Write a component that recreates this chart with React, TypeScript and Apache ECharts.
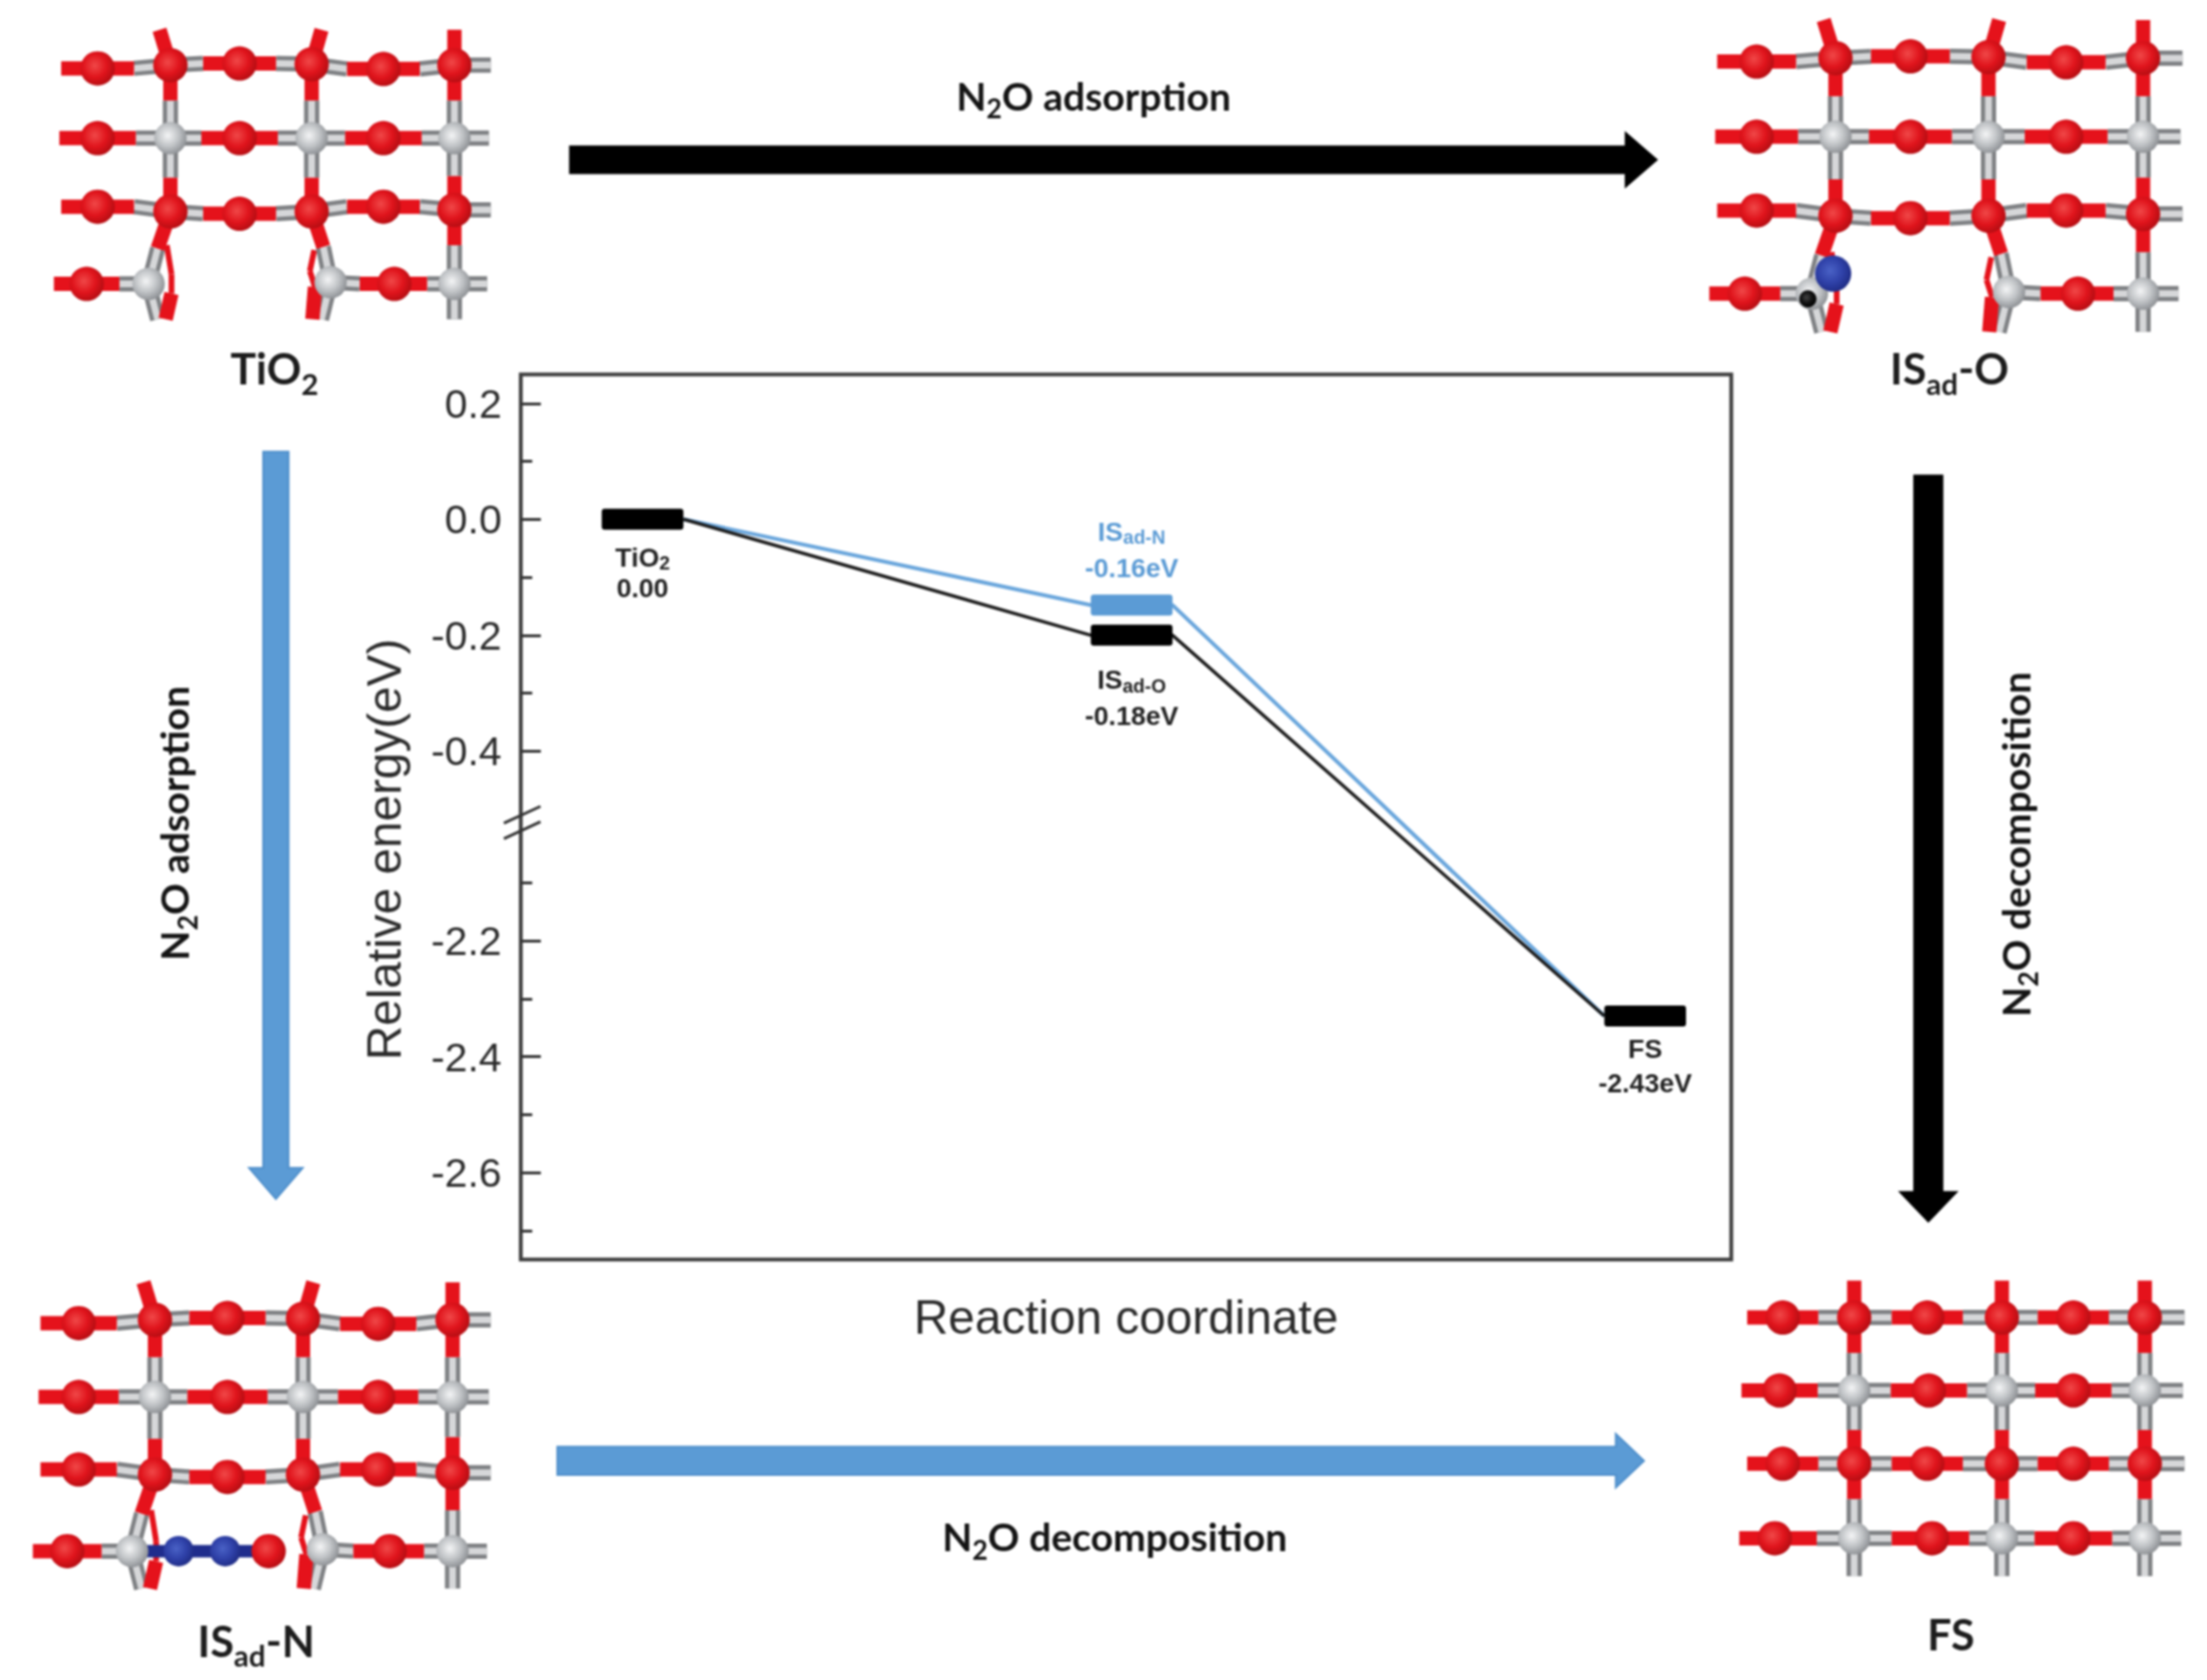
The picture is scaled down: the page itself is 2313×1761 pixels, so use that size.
import React, { useEffect, useRef } from "react";
import * as echarts from "echarts";

// ---- chart data ----
const stepPositions = [1, 2, 3.05];
const pathOLevels = [0, -0.2, -2.33];
const pathNLevels = [0, -0.148, -2.33];
const levelSpan = 0.167;
const majorTickValues = [0.2, 0, -0.2, -0.4, -2.2, -2.4, -2.6];
const minorTickValues = [0.1, -0.1, -0.3, -2.1, -2.3, -2.5, -2.7];
const pathOLabels = [
  ["{a|TiO}{b|2}", "0.00"],
  ["{a|IS}{b|ad-O}", "-0.18eV"],
  ["{a|FS}", "-2.43eV"],
];
const pathNLabels = ["{a|IS}{b|ad-N}", "-0.16eV"];

const W = 2313;
const H = 1761;
const K = W / 1568; // layout below is noted in 1568-wide units
const BLUE = "#5b9bd5";

type El = Record<string, any>;

const radial = (a: string, b: string, c: string) =>
  new echarts.graphic.RadialGradient(0.42, 0.42, 0.62, [
    { offset: 0, color: a },
    { offset: 0.55, color: b },
    { offset: 1, color: c },
  ]);

type Bond = [number, number, number, number, string];
type Atom = [number, number, string];

function hRow(os: number[][], cs: number[][], end: number, h: number): Bond[] {
  const out: Bond[] = [];
  os.forEach((o, i) => {
    out.push([o[0] - h, o[1], o[0] + h, o[1], "r"]);
    out.push([o[0] + h, o[1], cs[i][0], cs[i][1], "g"]);
    if (i < os.length - 1) out.push([cs[i][0], cs[i][1], os[i + 1][0] - h, os[i + 1][1], "g"]);
    else out.push([cs[i][0], cs[i][1], end, cs[i][1], "g"]);
  });
  return out;
}

const rumpledBonds: Bond[] = [
  ...hRow([[265, 220], [655, 205], [1050, 222]], [[465, 210], [853, 207], [1245, 210]], 1345, 100),
  ...hRow([[265, 437], [655, 437], [1050, 437]], [[465, 437], [853, 437], [1245, 437]], 1340, 105),
  ...hRow([[265, 650], [655, 672], [1050, 650]], [[465, 665], [853, 665], [1245, 660]], 1345, 100),
  [145, 890, 325, 890, "r"], [325, 890, 405, 890, "g"],
  [905, 885, 985, 890, "g"], [985, 890, 1170, 890, "r"], [1170, 890, 1245, 890, "g"], [1245, 890, 1335, 890, "g"],
  [435, 100, 465, 210, "r"], [465, 210, 465, 320, "r"], [465, 320, 465, 437, "g"], [465, 437, 465, 560, "g"],
  [465, 560, 465, 665, "r"], [465, 665, 430, 780, "r"], [430, 780, 405, 890, "g"], [405, 890, 430, 1000, "g"],
  [455, 770, 468, 860, "q"], [468, 860, 468, 920, "q"], [468, 920, 452, 1000, "r"],
  [880, 100, 853, 207, "r"], [853, 207, 853, 320, "r"], [853, 320, 853, 437, "g"], [853, 437, 853, 560, "g"],
  [853, 560, 853, 665, "r"], [853, 665, 885, 775, "r"], [885, 775, 905, 885, "g"], [905, 885, 880, 1000, "g"],
  [860, 785, 848, 850, "q"], [848, 850, 862, 900, "q"], [862, 900, 855, 1000, "r"],
  [1245, 100, 1245, 210, "r"], [1245, 210, 1245, 320, "r"], [1245, 320, 1245, 437, "g"], [1245, 437, 1245, 555, "g"],
  [1245, 555, 1245, 660, "r"], [1245, 660, 1245, 770, "r"], [1245, 770, 1245, 890, "g"], [1245, 890, 1245, 1000, "g"],
];
const rumpledAtoms: Atom[] = [
  [265, 220, "O"], [655, 205, "O"], [1050, 222, "O"], [465, 210, "O"], [853, 207, "O"], [1245, 210, "O"],
  [265, 437, "O"], [655, 437, "O"], [1050, 437, "O"], [465, 437, "T"], [853, 437, "T"], [1245, 437, "T"],
  [265, 650, "O"], [655, 672, "O"], [1050, 650, "O"], [465, 665, "O"], [853, 665, "O"], [1245, 660, "O"],
  [235, 890, "O"], [1080, 890, "O"], [405, 890, "T"], [905, 885, "T"], [1245, 890, "T"],
];

const flatCols = [430, 895, 1345];
const flatBonds: Bond[] = [
  ...hRow([[205, 185], [660, 185], [1120, 185]], flatCols.map((c) => [c, 185]), 1470, 112),
  ...hRow([[195, 412], [665, 412], [1120, 412]], flatCols.map((c) => [c, 412]), 1465, 120),
  ...hRow([[205, 640], [660, 640], [1120, 640]], flatCols.map((c) => [c, 640]), 1470, 112),
  ...hRow([[190, 872], [670, 872], [1120, 872]], flatCols.map((c) => [c, 872]), 1460, 122),
  ...flatCols.flatMap((c): Bond[] => [
    [c, 70, c, 185, "r"], [c, 185, c, 295, "r"], [c, 295, c, 412, "g"], [c, 412, c, 535, "g"],
    [c, 535, c, 640, "r"], [c, 640, c, 750, "r"], [c, 750, c, 872, "g"], [c, 872, c, 990, "g"],
  ]),
];
const flatAtoms: Atom[] = [
  [205, 185, "O"], [660, 185, "O"], [1120, 185, "O"], [430, 185, "O"], [895, 185, "O"], [1345, 185, "O"],
  [195, 412, "O"], [665, 412, "O"], [1120, 412, "O"], [430, 412, "T"], [895, 412, "T"], [1345, 412, "T"],
  [205, 640, "O"], [660, 640, "O"], [1120, 640, "O"], [430, 640, "O"], [895, 640, "O"], [1345, 640, "O"],
  [180, 872, "O"], [675, 872, "O"], [1120, 872, "O"], [430, 872, "T"], [895, 872, "T"], [1345, 872, "T"],
];

function lattice(
  bonds: Bond[],
  atoms: Atom[],
  u0: number, u1: number, v0: number, v1: number,
  x0: number, x1: number, y0: number, y1: number,
  nitrogenR = 16,
): El[] {
  const X = (u: number) => (x0 + ((u - u0) / (u1 - u0)) * (x1 - x0)) * K;
  const Y = (v: number) => (y0 + ((v - v0) / (v1 - v0)) * (y1 - y0)) * K;
  const out: El[] = [];
  const seg = (b: Bond, stroke: string, lineWidth: number) => ({
    type: "line", silent: true,
    shape: { x1: X(b[0]), y1: Y(b[1]), x2: X(b[2]), y2: Y(b[3]) },
    style: { stroke, lineWidth, lineCap: "butt" },
  });
  bonds.filter((b) => b[4] === "q").forEach((b) => out.push(seg(b, "#e5121b", 6)));
  bonds.filter((b) => b[4] === "g").forEach((b) => {
    out.push(seg(b, "#7f8184", 16));
    out.push(seg(b, "#d6d7d9", 7));
  });
  bonds.filter((b) => b[4] === "n").forEach((b) => out.push(seg(b, "#1f2c8c", 13)));
  bonds.filter((b) => b[4] === "r").forEach((b) => out.push(seg(b, "#e5121b", 15)));
  atoms.forEach((a) => {
    const fill =
      a[2] === "O" ? radial("#f04848", "#e0141c", "#b20d12")
      : a[2] === "T" ? radial("#f4f5f6", "#bfc2c5", "#8b8e92")
      : a[2] === "N" ? radial("#4a62c6", "#2f41a8", "#1e2b83")
      : radial("#444", "#111", "#000");
    const r = a[2] === "O" ? 18 : a[2] === "T" ? 17 : a[2] === "N" ? nitrogenR : 9;
    out.push({
      type: "circle", silent: true,
      shape: { cx: X(a[0]), cy: Y(a[1]), r },
      style: { fill },
    });
  });
  return out;
}

function arrowH(x1: number, x2: number, base: number, yc: number, half: number, head: number, fill: string, stroke?: string): El {
  return {
    type: "polygon", silent: true,
    shape: {
      points: [
        [x1, yc - half], [base, yc - half], [base, yc - head], [x2, yc], [base, yc + head], [base, yc + half], [x1, yc + half],
      ].map((p) => [p[0] * K, p[1] * K]),
    },
    style: { fill, stroke: stroke || fill, lineWidth: 2 },
  };
}
function arrowV(xc: number, y1: number, y2: number, base: number, half: number, head: number, fill: string, stroke?: string): El {
  return {
    type: "polygon", silent: true,
    shape: {
      points: [
        [xc - half, y1], [xc - half, base], [xc - head, base], [xc, y2], [xc + head, base], [xc + half, base], [xc + half, y1],
      ].map((p) => [p[0] * K, p[1] * K]),
    },
    style: { fill, stroke: stroke || fill, lineWidth: 2 },
  };
}

const capRich = (size: number, sub: number, lh: number, weight: any = 700, color = "#141414") => ({
  m: { fontFamily: "Lato", fontWeight: weight, fontSize: size, lineHeight: lh, fill: color, verticalAlign: "middle" },
  s: { fontFamily: "Lato", fontWeight: weight, fontSize: sub, lineHeight: lh, fill: color, verticalAlign: "bottom" },
});

function caption(text: string, x: number, y: number, rotated = false): El {
  return {
    type: "text", silent: true,
    x: x * K, y: y * K, rotation: rotated ? Math.PI / 2 : 0,
    style: { text, rich: capRich(41, 28, 54), align: "center", verticalAlign: "middle" },
  };
}
function stateLabel(text: string, x: number, y: number): El {
  return {
    type: "text", silent: true,
    x: x * K, y: y * K,
    style: { text, rich: capRich(45, 31, 62, 700, "#1d1d1d"), align: "center", verticalAlign: "middle" },
  };
}

const graphicElements: El[] = [
  ...lattice(rumpledBonds, rumpledAtoms, 140, 1350, 95, 1005, 37, 350, 20, 228),
  ...lattice(
    rumpledBonds,
    [...rumpledAtoms, [395, 905, "D"], [459, 832, "N"]],
    140, 1350, 95, 1005, 1213, 1552, 13, 237, 19,
  ),
  ...lattice(
    [...rumpledBonds, [405, 890, 527, 890, "n"], [527, 890, 763, 890, "n"]],
    [...rumpledAtoms, [527, 890, "N"], [649, 890, "N"], [763, 890, "O"]],
    140, 1350, 95, 1005, 22, 350, 910, 1130,
  ),
  ...lattice(flatBonds, flatAtoms, 65, 1470, 70, 990, 1235, 1552, 910, 1120),
  arrowH(405, 1177, 1155, 113.5, 9.5, 19, "#000"),
  arrowV(1370, 338, 868, 847, 10, 20, "#000"),
  arrowV(196, 321, 852, 830, 9, 19, BLUE, "#4f8fcb"),
  arrowH(396, 1168, 1148, 1038, 10, 19, BLUE, "#4f8fcb"),
  caption("{m|N}{s|2}{m|O adsorption}", 777, 68),
  caption("{m|N}{s|2}{m|O decomposition}", 792, 1092),
  { ...caption("{m|N}{s|2}{m|O adsorption}", 124, 585), rotation: Math.PI / 2 },
  { ...caption("{m|N}{s|2}{m|O decomposition}", 1432, 600), rotation: Math.PI / 2 },
  stateLabel("{m|TiO}{s|2}", 195, 262),
  stateLabel("{m|IS}{s|ad}{m|-O}", 1385, 262),
  stateLabel("{m|IS}{s|ad}{m|-N}", 182, 1166),
  stateLabel("{m|FS}", 1386, 1161),
  // axis break mark
  { type: "line", silent: true, shape: { x1: 358 * K, y1: 585 * K, x2: 384 * K, y2: 573 * K }, style: { stroke: "#333", lineWidth: 3 } },
  { type: "line", silent: true, shape: { x1: 358 * K, y1: 596 * K, x2: 384 * K, y2: 584 * K }, style: { stroke: "#333", lineWidth: 3 } },
];

const LEVEL_THICKNESS = 22;
const LABEL_OFFSETS_O = [[40, 72], [47, 85], [34, 70]];
const LABEL_OFFSETS_N = [-77, -39];

const levelRich = (color: string) => ({
  a: { fontFamily: "Liberation Sans", fontWeight: 700, fontSize: 28, lineHeight: 32, fill: color, verticalAlign: "middle" },
  b: { fontFamily: "Liberation Sans", fontWeight: 700, fontSize: 20, lineHeight: 32, fill: color, verticalAlign: "bottom" },
});
const levelText = (text: string, x: number, y: number, color: string, rich: boolean) => ({
  type: "text",
  x, y,
  style: rich
    ? { text, rich: levelRich(color), align: "center", verticalAlign: "middle" }
    : { text, fontFamily: "Liberation Sans", fontWeight: 700, fontSize: 28, fill: color, align: "center", verticalAlign: "middle" },
});

const levelsO = stepPositions.map((x, i) => [x, pathOLevels[i], i]);
const levelN = [[stepPositions[1], pathNLevels[1], 1]];

const connector = (levels: number[]) =>
  stepPositions.slice(0, -1).map((x, i) => [
    [x + levelSpan / 2, levels[i]],
    [stepPositions[i + 1] - levelSpan / 2, levels[i + 1]],
  ]).flat();

const yBase = {
  type: "value",
  min: -2.75,
  max: 0.25,
  position: "left",
  breaks: [{ start: -2.0, end: -0.5, gap: 0.027 }],
  breakArea: { show: false },
  splitLine: { show: false },
  axisLine: { show: false },
};

export default function App() {
  const ref = useRef<HTMLDivElement>(null);
  useEffect(() => {
    const chart = echarts.init(ref.current!, undefined, { renderer: "svg" });
    chart.setOption({
      animation: false,
      backgroundColor: "#fff",
      grid: {
        show: true,
        left: 370 * K,
        top: 266 * K,
        width: 860 * K,
        height: 629 * K,
        borderColor: "#3f3f3f",
        borderWidth: 4,
        backgroundColor: "transparent",
      },
      xAxis: {
        type: "value",
        min: 0.751,
        max: 3.226,
        name: "Reaction coordinate",
        nameLocation: "middle",
        nameGap: 36,
        nameTextStyle: { fontFamily: "Liberation Sans", fontSize: 50, color: "#2b2b2b" },
        axisLine: { show: false },
        axisTick: { show: false },
        axisLabel: { show: false },
        splitLine: { show: false },
      },
      yAxis: [
        {
          ...yBase,
          name: "Relative energy(eV)",
          nameLocation: "middle",
          nameGap: 118,
          nameTextStyle: { fontFamily: "Liberation Sans", fontSize: 50, color: "#2b2b2b", padding: [0, 68, 0, 0] },
          axisTick: { show: true, inside: true, length: 21, lineStyle: { color: "#333", width: 3 }, customValues: majorTickValues },
          axisLabel: {
            show: true,
            margin: 20,
            fontFamily: "Liberation Sans",
            fontSize: 43,
            color: "#2b2b2b",
            customValues: majorTickValues,
            formatter: (v: number) => v.toFixed(1),
          },
        },
        {
          ...yBase,
          axisTick: { show: true, inside: true, length: 12, lineStyle: { color: "#333", width: 3 }, customValues: minorTickValues },
          axisLabel: { show: false },
        },
      ],
      series: [
        {
          type: "line", name: "IS-ad-N path", data: connector(pathNLevels), showSymbol: false, symbol: "none", z: 2,
          lineStyle: { color: "#6aa6dc", width: 4 },
        },
        {
          type: "line", name: "IS-ad-O path", data: connector(pathOLevels), showSymbol: false, symbol: "none", z: 3,
          lineStyle: { color: "#1c1c1c", width: 3.5 },
        },
        {
          type: "custom", name: "IS-ad-N level", z: 4, data: levelN, encode: { x: 0, y: 1 }, clip: false,
          renderItem: (_p: any, api: any) => {
            const c = api.coord([api.value(0), api.value(1)]);
            const w = api.size([levelSpan, 0])[0];
            return {
              type: "group",
              children: [
                { type: "rect", shape: { x: c[0] - w / 2, y: c[1] - LEVEL_THICKNESS / 2, width: w, height: LEVEL_THICKNESS, r: 3 }, style: { fill: BLUE } },
                levelText(pathNLabels[0], c[0], c[1] + LABEL_OFFSETS_N[0], BLUE, true),
                levelText(pathNLabels[1], c[0], c[1] + LABEL_OFFSETS_N[1], BLUE, false),
              ],
            };
          },
        },
        {
          type: "custom", name: "IS-ad-O level", z: 5, data: levelsO, encode: { x: 0, y: 1 }, clip: false,
          renderItem: (p: any, api: any) => {
            const c = api.coord([api.value(0), api.value(1)]);
            const w = api.size([levelSpan, 0])[0];
            const i = p.dataIndex;
            return {
              type: "group",
              children: [
                { type: "rect", shape: { x: c[0] - w / 2, y: c[1] - LEVEL_THICKNESS / 2, width: w, height: LEVEL_THICKNESS, r: 3 }, style: { fill: "#000" } },
                levelText(pathOLabels[i][0], c[0], c[1] + LABEL_OFFSETS_O[i][0], "#222", true),
                levelText(pathOLabels[i][1], c[0], c[1] + LABEL_OFFSETS_O[i][1], "#222", false),
              ],
            };
          },
        },
      ],
      graphic: { elements: graphicElements },
    });
    return () => chart.dispose();
  }, []);
  return (
    <div
      ref={ref}
      style={{ position: "fixed", left: 0, top: 0, width: W, height: H, background: "#fff", filter: "blur(0.9px)" }}
    />
  );
}
